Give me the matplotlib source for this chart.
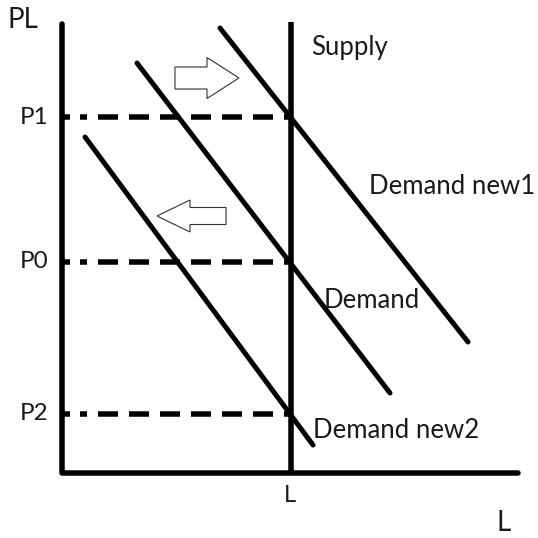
import matplotlib
matplotlib.use('Agg')
import matplotlib.pyplot as plt
from matplotlib.patches import FancyArrow

plt.rcParams['font.family'] = ['Lato', 'DejaVu Sans']
plt.rcParams['lines.scale_dashes'] = False

# picture is drawn in pixel units (y grows downward)
axis_x = [62, 62, 518]
axis_y = [24, 473, 473]
supply_x = [291, 291]
supply_y = [22, 473]

demand_names = ['Demand new1', 'Demand', 'Demand new2']
demand_x = [[220, 468], [137, 390], [85, 313]]
demand_y = [[28, 342], [63, 393], [137, 445]]

price_labels = ['P1', 'P0', 'P2']
price_levels = [117, 262, 414]

text_col = '#1a1a1a'
px = 0.72  # points per pixel at dpi 100
fs = 18.5

fig = plt.figure(figsize=(5.38, 5.38), dpi=100)
ax = fig.add_axes([0, 0, 1, 1])
ax.set_xlim(0, 538)
ax.set_ylim(538, 0)
ax.axis('off')

ax.plot(axis_x, axis_y, color='black', lw=5.5 * px, solid_capstyle='round', solid_joinstyle='round')
ax.plot(supply_x, supply_y, color='black', lw=5.5 * px, solid_capstyle='butt')

for xs, ys in zip(demand_x, demand_y):
    ax.plot(xs, ys, color='black', lw=5 * px, solid_capstyle='round')

dash = [8, 10, 7, 11] + [20, 11] * 12
dash = [d * px for d in dash]
for lvl, lab in zip(price_levels, price_labels):
    ax.plot([62, 291], [lvl, lvl], color='black', lw=5.5 * px,
            linestyle=(0, dash), dash_capstyle='butt')
    ax.text(20, lvl, lab, fontsize=17.5, color=text_col, ha='left', va='center')

ax.text(8, 20, 'PL', fontsize=20, color=text_col, ha='left', va='center')
ax.text(311, 48, 'Supply', fontsize=fs, color=text_col, ha='left', va='center')
ax.text(369, 186, demand_names[0], fontsize=fs, color=text_col, ha='left', va='center')
ax.text(324, 300, demand_names[1], fontsize=fs, color=text_col, ha='left', va='center')
ax.text(313, 430, demand_names[2], fontsize=fs, color=text_col, ha='left', va='center')
ax.text(290, 495, 'L', fontsize=17, color=text_col, ha='center', va='center')
ax.text(504, 523, 'L', fontsize=20, color=text_col, ha='center', va='center')

# shift arrows
ax.add_patch(FancyArrow(175, 78, 64, 0, width=22, head_width=41, head_length=32,
                        length_includes_head=True, facecolor='white',
                        edgecolor='#333333', lw=0.8))
ax.add_patch(FancyArrow(226, 216, -69, 0, width=17, head_width=32, head_length=33,
                        length_includes_head=True, facecolor='white',
                        edgecolor='#333333', lw=0.8))

plt.savefig('out.png', dpi=100)
